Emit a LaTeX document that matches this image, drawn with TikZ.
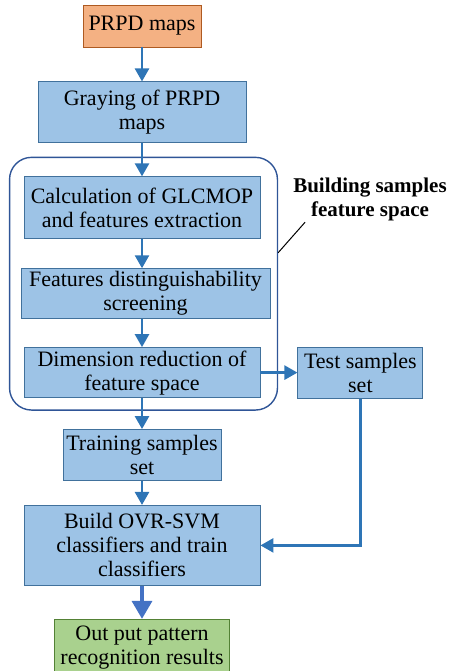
\documentclass[tikz,border=0pt]{standalone}
\usepackage{fontspec}
\setmainfont{Liberation Serif}
\newfontfamily\flowfont{Liberation Serif}
\usepackage{xcolor}
\usetikzlibrary{positioning,arrows.meta,fit}
\definecolor{flowBlue}{HTML}{9DC3E6}
\definecolor{flowEdge}{HTML}{41719C}
\definecolor{flowOrange}{HTML}{F4B183}
\definecolor{flowBrown}{HTML}{AE5A21}
\definecolor{flowGreen}{HTML}{A9D18E}
\definecolor{flowDGreen}{HTML}{538135}
\definecolor{flowArrow}{HTML}{2E75B6}
\definecolor{flowFrame}{HTML}{2F5597}
\definecolor{flowLast}{HTML}{4472C4}

\begin{document}
\begin{tikzpicture}[x=1pt,y=1pt,
    font=\flowfont\fontsize{22}{24}\selectfont,
    box/.style={draw=flowEdge,fill=flowBlue,line width=0.9pt,align=center,inner sep=0pt},
    arr/.style={draw=flowArrow,line width=2.6pt,-{Triangle[width=14pt,length=13pt]}}]
  \useasboundingbox (0,0) rectangle (450,-671);
  \node[draw=flowBrown,fill=flowOrange,line width=0.9pt,inner sep=0pt,minimum width=118pt,minimum height=42pt] (prpd) at (142,-26)
    {PRPD maps};
  \node[box,minimum width=208pt,minimum height=61pt,below=34pt of prpd] (gray)
    {Graying of PRPD\\maps};
  \node[box,minimum width=236pt,minimum height=62pt,below=33pt of gray] (calc)
    {Calculation of GLCMOP\\and features extraction};
  \node[box,minimum width=249pt,minimum height=50pt,below=29pt of calc,xshift=3.5pt] (feat)
    {Features distinguishability\\screening};
  \node[box,minimum width=236pt,minimum height=50pt,below=28pt of feat,xshift=-3.5pt] (dim)
    {Dimension reduction of\\feature space};
  \node[box,minimum width=125pt,minimum height=51pt,right=37pt of dim] (test)
    {Test samples\\set};
  \node[box,minimum width=158pt,minimum height=51pt,below=31pt of dim] (train)
    {Training samples\\set};
  \node[box,minimum width=236pt,minimum height=80pt,below=24pt of train] (build)
    {Build OVR-SVM\\classifiers and train\\classifiers};
  \node[draw=flowDGreen,fill=flowGreen,line width=0.9pt,align=center,inner sep=0pt,minimum width=175pt,minimum height=57pt,below=33pt of build] (out)
    {Out put pattern\\recognition results};
  % frame round the feature steps
  \coordinate (grpNW) at ([xshift=-14pt,yshift=19pt]calc.north west);
  \coordinate (grpSE) at ([xshift=17pt,yshift=-12pt]dim.south east);
  \node[draw=flowFrame,line width=1.4pt,rounded corners=22pt,inner sep=0pt,fit=(grpNW)(grpSE)] (grp) {};
  \node[font=\flowfont\bfseries\fontsize{21}{24}\selectfont,align=center,inner sep=0pt] (lbl) at (370,-199)
    {Building samples\\feature space};
  \draw[line width=1pt] ([yshift=31pt]grp.east) -- ([xshift=12pt,yshift=-1.5pt]lbl.south west);
  \draw[arr] (prpd) -- (gray);
  \draw[arr] (gray) -- (calc);
  \draw[arr] (calc) -- (calc |- feat.north);
  \draw[arr] (feat.south -| dim.north) -- (dim);
  \draw[arr] (dim) -- (test);
  \draw[arr] (dim) -- (train);
  \draw[arr] (train) -- (build);
  \draw[arr] (test) |- (build);
  \draw[draw=flowLast,line width=3.5pt,-{Triangle[width=20pt,length=18pt]}] (build) -- (out);
\end{tikzpicture}
\end{document}
